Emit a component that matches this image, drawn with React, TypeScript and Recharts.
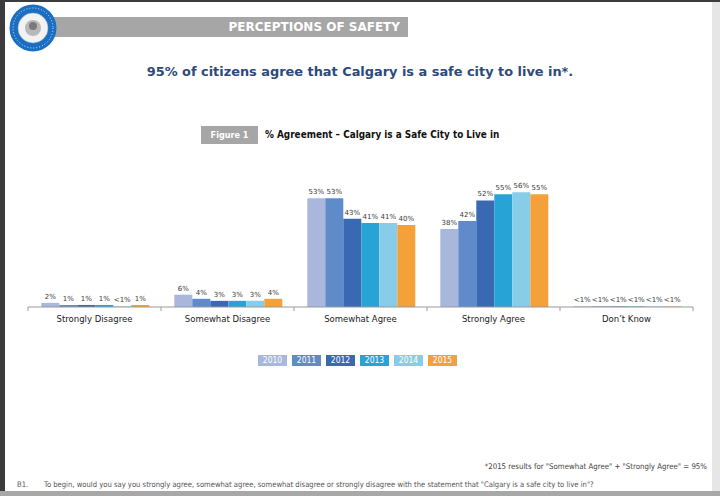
import React from "react";
import { BarChart, Bar, XAxis, YAxis, LabelList } from "recharts";

const categories = ["Strongly Disagree", "Somewhat Disagree", "Somewhat Agree", "Strongly Agree", "Don\u2019t Know"];
const years = ["2010", "2011", "2012", "2013", "2014", "2015"];
const y2010 = [2, 6, 53, 38, 0.3];
const y2011 = [1, 4, 53, 42, 0.3];
const y2012 = [1, 3, 43, 52, 0.3];
const y2013 = [1, 3, 41, 55, 0.3];
const y2014 = [0.3, 3, 41, 56, 0.3];
const y2015 = [1, 4, 40, 55, 0.3];
const colors = ["#a9b7dc", "#5f8bcb", "#3a69b3", "#27a3d6", "#87cdea", "#f4a13a"];

const seriesValues = [y2010, y2011, y2012, y2013, y2014, y2015];
const data = categories.map((c, i) => {
  const row: Record<string, any> = { category: c };
  years.forEach((y, j) => {
    row[y] = seriesValues[j][i];
  });
  return row;
});

const CHART_W = 720;
const CHART_H = 190;
const M = { top: 34, right: 27, left: 28, bottom: 0 };
const BAND = (CHART_W - M.left - M.right) / categories.length;

const fmt = (v: any) => (Number(v) < 1 ? "<1%" : `${v}%`);

const Tick = (props: any) => {
  const { x, y, payload, index } = props;
  const lx = x - BAND / 2;
  return (
    <g>
      <line x1={lx} y1={y - 8} x2={lx} y2={y - 4} stroke="#999" strokeWidth={1} />
      {index === categories.length - 1 && (
        <line x1={x + BAND / 2} y1={y - 8} x2={x + BAND / 2} y2={y - 4} stroke="#999" strokeWidth={1} />
      )}
      <text x={x} y={y + 7} textAnchor="middle" fontSize={8.5} fill="#222" fontFamily="DejaVu Sans, Verdana, sans-serif">
        {payload.value}
      </text>
    </g>
  );
};

export default function App() {
  return (
    <div
      style={{
        position: "absolute",
        left: 0,
        top: 0,
        width: 720,
        height: 496,
        background: "#ffffff",
        overflow: "hidden",
        fontFamily: "DejaVu Sans, Verdana, sans-serif",
      }}
    >
      {/* frame */}
      <div style={{ position: "absolute", left: 0, top: 0, width: 5, height: 496, background: "#3c3c3c" }} />
      <div style={{ position: "absolute", left: 0, top: 0, width: 720, height: 2, background: "#3c3c3c" }} />
      <div style={{ position: "absolute", left: 0, top: 491, width: 720, height: 5, background: "#a8a8a8" }} />
      <div style={{ position: "absolute", left: 712, top: 2, width: 8, height: 489, background: "#e6e6e6" }} />

      {/* header bar */}
      <div
        style={{
          position: "absolute",
          left: 12,
          top: 17,
          width: 396,
          height: 20,
          background: "#a6a6a6",
        }}
      />
      <div
        style={{
          position: "absolute",
          left: 12,
          top: 17,
          width: 388,
          height: 20,
          lineHeight: "21px",
          textAlign: "right",
          color: "#ffffff",
          fontWeight: "bold",
          fontSize: 12,
        }}
      >
        PERCEPTIONS OF SAFETY
      </div>

      {/* logo */}
      <svg style={{ position: "absolute", left: 8, top: 4 }} width={50} height={50}>
        <circle cx={25} cy={24} r={23.5} fill="#1b6fc2" />
        <circle cx={25} cy={24} r={20} fill="none" stroke="#ffffff" strokeWidth={0.8} strokeDasharray="1 2" />
        <circle cx={25} cy={24} r={15} fill="#f2f2f2" stroke="#9ab" strokeWidth={0.5} />
        <circle cx={25} cy={24} r={8} fill="#b8b8b8" />
        <circle cx={25} cy={22} r={4} fill="#7a7a7a" />
      </svg>

      {/* subtitle */}
      <div
        style={{
          position: "absolute",
          left: 0,
          top: 64,
          width: 720,
          textAlign: "center",
          color: "#2c4a7c",
          fontWeight: "bold",
          fontSize: 12.9,
        }}
      >
        95% of citizens agree that Calgary is a safe city to live in*.
      </div>

      {/* figure title */}
      <div
        style={{
          position: "absolute",
          left: 201,
          top: 126,
          width: 57,
          height: 18,
          background: "#a6a6a6",
          color: "#ffffff",
          fontWeight: "bold",
          fontSize: 9,
          lineHeight: "18px",
          textAlign: "center",
          fontFamily: "DejaVu Sans Condensed, Liberation Sans, sans-serif",
        }}
      >
        Figure 1
      </div>
      <div
        style={{
          position: "absolute",
          left: 265,
          top: 126,
          height: 18,
          lineHeight: "18px",
          color: "#111",
          fontWeight: "bold",
          fontSize: 9.9,
          whiteSpace: "nowrap",
          fontFamily: "DejaVu Sans Condensed, Liberation Sans, sans-serif",
        }}
      >
        % Agreement – Calgary is a Safe City to Live in
      </div>

      {/* chart */}
      <div style={{ position: "absolute", left: 0, top: 150 }}>
        <BarChart width={CHART_W} height={CHART_H} data={data} margin={M} barCategoryGap="10%" barGap={0}>
          <XAxis
            dataKey="category"
            height={33}
            axisLine={{ stroke: "#999" }}
            tickLine={false}
            tick={<Tick />}
            interval={0}
          />
          <YAxis hide domain={[0, 60]} />
          {years.map((y, j) => (
            <Bar key={y} dataKey={y} fill={colors[j]} isAnimationActive={false}>
              <LabelList
                dataKey={y}
                position="top"
                offset={4}
                formatter={fmt}
                fontSize={7}
                fill="#3a3a3a"
                fontFamily="DejaVu Sans, Verdana, sans-serif"
              />
            </Bar>
          ))}
        </BarChart>
      </div>

      {/* legend */}
      {years.map((y, j) => (
        <div
          key={y}
          style={{
            position: "absolute",
            left: 258 + j * 34,
            top: 355,
            width: 29,
            height: 11,
            background: colors[j],
            color: "#ffffff",
            fontSize: 8.5,
            lineHeight: "11px",
            textAlign: "center",
            fontFamily: "DejaVu Sans Condensed, Liberation Sans, sans-serif",
          }}
        >
          {y}
        </div>
      ))}

      {/* footnotes */}
      <div
        style={{
          position: "absolute",
          right: 13,
          top: 462,
          fontSize: 7.8,
          color: "#444",
          whiteSpace: "nowrap",
          fontFamily: "DejaVu Sans Condensed, Liberation Sans, sans-serif",
        }}
      >
        *2015 results for "Somewhat Agree" + "Strongly Agree" = 95%
      </div>
      <div
        style={{
          position: "absolute",
          left: 17,
          top: 480,
          fontSize: 7.6,
          color: "#555",
          whiteSpace: "nowrap",
          fontFamily: "DejaVu Sans Condensed, Liberation Sans, sans-serif",
        }}
      >
        B1.
      </div>
      <div
        style={{
          position: "absolute",
          left: 44,
          top: 480,
          fontSize: 7.6,
          color: "#555",
          whiteSpace: "nowrap",
          fontFamily: "DejaVu Sans Condensed, Liberation Sans, sans-serif",
        }}
      >
        To begin, would you say you strongly agree, somewhat agree, somewhat disagree or strongly disagree with the statement that "Calgary is a safe city to live in"?
      </div>
    </div>
  );
}
